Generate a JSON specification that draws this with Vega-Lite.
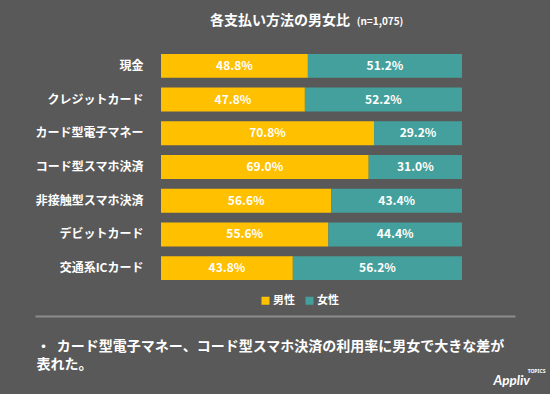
{
  "$schema": "https://vega.github.io/schema/vega-lite/v6.json",
  "width": 480,
  "height": 236,
  "autosize": {"type": "none"},
  "padding": {"left": 35, "top": 49, "right": 35, "bottom": 109},
  "background": "#595959",
  "config": {"view": {"stroke": null}, "font": "Noto Sans CJK JP"},
  "title": {
    "text": "各支払い方法の男女比",
    "anchor": "middle",
    "frame": "group",
    "dx": 5,
    "offset": -12,
    "fontSize": 14,
    "fontWeight": "bold",
    "color": "#ffffff",
    "font": "Noto Sans CJK JP"
  },
  "data": {
    "values": [
      {"method": "現金", "sex": "男性", "share": 0.488},
      {"method": "現金", "sex": "女性", "share": 0.512},
      {"method": "クレジットカード", "sex": "男性", "share": 0.478},
      {"method": "クレジットカード", "sex": "女性", "share": 0.522},
      {"method": "カード型電子マネー", "sex": "男性", "share": 0.708},
      {"method": "カード型電子マネー", "sex": "女性", "share": 0.292},
      {"method": "コード型スマホ決済", "sex": "男性", "share": 0.690},
      {"method": "コード型スマホ決済", "sex": "女性", "share": 0.310},
      {"method": "非接触型スマホ決済", "sex": "男性", "share": 0.566},
      {"method": "非接触型スマホ決済", "sex": "女性", "share": 0.434},
      {"method": "デビットカード", "sex": "男性", "share": 0.556},
      {"method": "デビットカード", "sex": "女性", "share": 0.444},
      {"method": "交通系ICカード", "sex": "男性", "share": 0.438},
      {"method": "交通系ICカード", "sex": "女性", "share": 0.562}
    ]
  },
  "transform": [
    {"stack": "share", "groupby": ["method"], "sort": [{"field": "sex", "order": "descending"}], "as": ["v0", "v1"]},
    {"calculate": "(datum.v0 + datum.v1) / 2", "as": "mid"}
  ],
  "layer": [
    {
      "mark": {"type": "bar"},
      "encoding": {
        "y": {
          "field": "method",
          "type": "nominal",
          "sort": ["現金", "クレジットカード", "カード型電子マネー", "コード型スマホ決済", "非接触型スマホ決済", "デビットカード", "交通系ICカード"],
          "scale": {"paddingInner": 0.29, "paddingOuter": 0.145},
          "axis": {
            "orient": "left",
            "offset": -126,
            "domain": false,
            "ticks": false,
            "grid": false,
            "labelColor": "#ffffff",
            "labelFont": "Noto Sans CJK JP",
            "labelFontSize": 12,
            "labelFontWeight": "bold",
            "labelPadding": 18,
            "title": "(n=1,075)",
            "titleAngle": 0,
            "titleX": 218.5,
            "titleY": -28,
            "titleAlign": "center",
            "titleBaseline": "middle",
            "titleFont": "Noto Sans CJK JP",
            "titleFontSize": 10,
            "titleFontWeight": "bold",
            "titleColor": "#ffffff"
          }
        },
        "x": {
          "field": "v0",
          "type": "quantitative",
          "scale": {"domain": [-0.4186, 1.1761], "nice": false, "zero": false},
          "axis": {
            "orient": "bottom",
            "offset": 31,
            "domain": true,
            "domainColor": "#8c8c8c",
            "domainWidth": 2,
            "ticks": false,
            "labels": false,
            "grid": false,
            "title": ["・\u00a0\u00a0カード型電子マネー、コード型スマホ決済の利用率に男女で大きな差が", "\u3000\u00a0\u00a0表れた。"],
            "titleFont": "Noto Sans CJK JP",
            "titleFontSize": 14,
            "titleFontWeight": "bold",
            "titleColor": "#ffffff",
            "titleAnchor": "start",
            "titleAlign": "left",
            "titleBaseline": "top",
            "titleLineHeight": 18,
            "titleX": 1,
            "titleY": 23
          }
        },
        "x2": {"field": "v1"},
        "color": {
          "field": "sex",
          "type": "nominal",
          "scale": {"domain": ["男性", "女性"], "range": ["#FFC000", "#44A09C"]},
          "legend": {
            "orient": "none",
            "legendX": 225,
            "legendY": 246,
            "direction": "horizontal",
            "title": null,
            "symbolType": "square",
            "symbolSize": 64,
            "symbolStrokeWidth": 0,
            "labelColor": "#ffffff",
            "labelFont": "Noto Sans CJK JP",
            "labelFontSize": 11,
            "labelFontWeight": "bold",
            "labelOffset": 2,
            "columnPadding": 9
          }
        }
      }
    },
    {
      "mark": {"type": "text", "color": "#ffffff", "font": "Noto Sans CJK JP", "fontSize": 12, "fontWeight": "bold", "align": "center", "baseline": "middle"},
      "encoding": {
        "y": {
          "field": "method",
          "type": "nominal",
          "sort": ["現金", "クレジットカード", "カード型電子マネー", "コード型スマホ決済", "非接触型スマホ決済", "デビットカード", "交通系ICカード"],
          "axis": {
            "orient": "right",
            "domain": false,
            "ticks": false,
            "labels": false,
            "grid": false,
            "title": "TOPICS",
            "titleAngle": 0,
            "titleX": 21,
            "titleY": 321,
            "titleAlign": "center",
            "titleBaseline": "middle",
            "titleFont": "Noto Sans",
            "titleFontSize": 5,
            "titleFontWeight": "bold",
            "titleColor": "#ffffff"
          }
        },
        "x": {
          "field": "mid",
          "type": "quantitative",
          "axis": {
            "orient": "bottom",
            "domain": false,
            "ticks": false,
            "labels": false,
            "grid": false,
            "title": "Appliv",
            "titleFont": "Lato",
            "titleFontStyle": "italic",
            "titleFontWeight": "bold",
            "titleFontSize": 13.5,
            "titleColor": "#ffffff",
            "titleAnchor": "start",
            "titleAlign": "left",
            "titleBaseline": "alphabetic",
            "titleX": 458,
            "titleY": 99
          }
        },
        "text": {"field": "share", "type": "quantitative", "format": ".1%"}
      }
    }
  ],
  "resolve": {"axis": {"x": "independent", "y": "independent"}}
}
